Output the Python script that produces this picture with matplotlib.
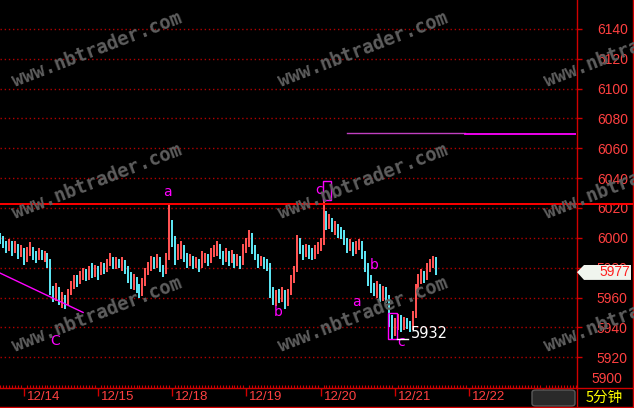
import matplotlib.pyplot as plt
from matplotlib import transforms
from matplotlib.lines import Line2D
from matplotlib.patches import Polygon, Rectangle, FancyBboxPatch

# 5 minute bars, 25 per day
closes = [5999, 5996, 5994, 5997, 5993, 5995, 5989, 5992, 5985, 5990,
          5993, 5988, 5986, 5990, 5988, 5989, 5985, 5965, 5962, 5966,
          5958, 5960, 5956, 5963, 5968, 5972, 5970, 5975, 5977, 5974,
          5978, 5976, 5980, 5977, 5981, 5979, 5983, 5986, 5982, 5985,
          5983, 5984, 5979, 5975, 5969, 5972, 5966, 5963, 5970, 5978,
          5981, 5985, 5982, 5986, 5980, 5977, 5986, 6015, 6000, 5987,
          5990, 5994, 5988, 5983, 5986, 5983, 5985, 5981, 5986, 5988,
          5984, 5990, 5993, 5995, 5989, 5986, 5990, 5985, 5988, 5984,
          5986, 5983, 5992, 5997, 6001, 5993, 5988, 5983, 5986, 5983,
          5982, 5965, 5958, 5962, 5960, 5963, 5956, 5963, 5972, 5978,
          6000, 5992, 5989, 5993, 5990, 5988, 5992, 5994, 5996, 6018,
          6010, 6012, 6007, 6008, 6004, 6003, 5998, 5994, 5996, 5991,
          5995, 5996, 5990, 5980, 5972, 5968, 5965, 5968, 5962, 5966,
          5960, 5945, 5936, 5942, 5946, 5940, 5944, 5942, 5940, 5948,
          5966, 5972, 5976, 5973, 5978, 5982, 5986, 5977]
highs = [6003, 6001, 5998, 5999, 5998, 5998, 5996, 5995, 5993, 5994,
         5997, 5994, 5991, 5993, 5992, 5991, 5990, 5986, 5968, 5970,
         5967, 5964, 5962, 5966, 5971, 5975, 5975, 5978, 5980, 5979,
         5981, 5983, 5982, 5981, 5984, 5983, 5986, 5990, 5987, 5987,
         5986, 5987, 5985, 5981, 5977, 5976, 5974, 5969, 5973, 5980,
         5984, 5988, 5987, 5989, 5987, 5982, 5990, 6023, 6012, 6001,
         5996, 5998, 5995, 5990, 5989, 5988, 5987, 5986, 5991, 5990,
         5989, 5993, 5995, 5998, 5996, 5991, 5993, 5991, 5992, 5989,
         5989, 5988, 5996, 6000, 6005, 6003, 5995, 5989, 5988, 5987,
         5986, 5983, 5967, 5965, 5966, 5967, 5965, 5966, 5975, 5981,
         6002, 6000, 5995, 5996, 5995, 5993, 5995, 5997, 6000, 6025,
         6018, 6016, 6013, 6011, 6009, 6007, 6005, 6000, 5999, 5997,
         5998, 5999, 5998, 5991, 5983, 5975, 5970, 5971, 5969, 5968,
         5967, 5962, 5948, 5946, 5949, 5948, 5947, 5946, 5944, 5951,
         5969, 5976, 5979, 5978, 5983, 5986, 5988, 5987]
lows = [5996, 5993, 5990, 5991, 5988, 5990, 5986, 5987, 5982, 5984,
        5988, 5985, 5983, 5985, 5985, 5984, 5980, 5962, 5957, 5958,
        5955, 5953, 5952, 5955, 5962, 5966, 5967, 5969, 5972, 5971,
        5972, 5973, 5974, 5972, 5975, 5976, 5977, 5981, 5979, 5979,
        5980, 5978, 5976, 5970, 5966, 5965, 5963, 5960, 5961, 5968,
        5975, 5978, 5979, 5980, 5977, 5974, 5976, 5985, 5994, 5982,
        5985, 5986, 5984, 5980, 5981, 5979, 5980, 5977, 5980, 5983,
        5981, 5983, 5987, 5988, 5986, 5982, 5984, 5981, 5983, 5980,
        5981, 5979, 5982, 5990, 5994, 5989, 5985, 5980, 5981, 5979,
        5978, 5960, 5955, 5954, 5956, 5957, 5952, 5954, 5962, 5970,
        5977, 5989, 5985, 5987, 5986, 5985, 5986, 5989, 5991, 5995,
        6005, 6006, 6004, 6002, 6000, 5999, 5995, 5990, 5991, 5988,
        5989, 5992, 5986, 5977, 5968, 5963, 5961, 5960, 5957, 5958,
        5956, 5940, 5932, 5934, 5938, 5937, 5938, 5939, 5937, 5938,
        5946, 5964, 5969, 5970, 5972, 5977, 5980, 5975]
first_open = 6000

day_starts = [8, 33, 58, 83, 108, 133, 158, 183]
day_labels = ['12/14', '12/15', '12/18', '12/19', '12/20', '12/21', '12/22', '']
price_ticks = [5920, 5940, 5960, 5980, 6000, 6020, 6040, 6060, 6080, 6100, 6120, 6140]
bottom_tick = 5900
last_price = 5977
low_price = 5932
resist_price = 6022.7

trend_x = [0, 28]
trend_y = [5976.4, 5950]
target_x = [116.9, 156.7, 194.1]
target_y = [6070.1, 6069.4]

wave_text = ['C', 'a', 'b', 'c', 'b', 'a', 'c']
wave_x = [18.5, 56.3, 93.7, 107.5, 126.0, 120.0, 135.1]
wave_y = [5930.8, 6030.7, 5950.3, 6032.0, 5981.8, 5957.0, 5930.0]

# boxes: x0, x1, y0, y1
box_c = [108.8, 111.5, 6025.3, 6038.1]
box_low = [130.8, 133.7, 5932, 5949.6]

RED = '#ff4040'
UP = '#ff5252'
DOWN = '#5ce4f2'
GRID = '#b00000'
LINE = '#d00000'
MAG = '#ff00ff'

W, H = 634, 408
fig = plt.figure(figsize=(W / 100, H / 100), dpi=100, facecolor='black')
ax = fig.add_axes([0, 20.5 / H, 576 / W, 387.5 / H], facecolor='black')
ax.set_xlim(0, 194.07)
ax.set_ylim(5899.7, 6159.4)
for s in ax.spines.values():
    s.set_visible(False)

# bars
opens = [first_open] + closes[:-1]
xs = list(range(len(closes)))
cols = [UP if c >= o else DOWN for o, c in zip(opens, closes)]
ax.vlines(xs, lows, highs, colors=cols, lw=1.2, antialiased=False, zorder=3)

# grid / ticks
ax.yaxis.tick_right()
ax.set_yticks(price_ticks)
ax.set_yticklabels([str(p) for p in price_ticks])
ax.tick_params(axis='y', colors=LINE, labelcolor=RED, length=4, width=1,
               direction='out', pad=11, labelsize=10)
for lab in ax.get_yticklabels():
    lab.set_family('Liberation Sans')
ax.grid(axis='y', color=GRID, linestyle=(0, (1, 2)), lw=1)
ax.annotate(str(bottom_tick), xy=(1, bottom_tick), xycoords=ax.get_yaxis_transform(),
            xytext=(15, 1), textcoords='offset pixels', ha='left', va='bottom',
            color=RED, fontsize=10, family='Liberation Sans', annotation_clip=False)

ax.set_xticks(day_starts)
ax.set_xticklabels([])
ax.set_xticks(range(0, 195), minor=True)
ax.tick_params(axis='x', which='major', colors=LINE, length=6, width=1, direction='out')
ax.tick_params(axis='x', which='minor', colors=LINE, length=2, width=0.8, direction='in')
for d, lbl in zip(day_starts, day_labels):
    ax.annotate(lbl, xy=(d, 0), xycoords=('data', 'axes fraction'),
                xytext=(3, -3), textcoords='offset pixels', ha='left', va='top',
                color=RED, fontsize=9.5, family='Liberation Sans', annotation_clip=False)

# resistance line, runs through the price panel too
ax.axhline(resist_price, xmin=0, xmax=W / 576, color='#ff0000', lw=1.4,
           clip_on=False, zorder=4)

# trend line & target line
ax.plot(trend_x, trend_y, color=MAG, lw=1, zorder=4)
ax.plot(target_x[:2], [target_y[0]] * 2, color='#c040c0', lw=1, zorder=4)
ax.plot(target_x[1:], [target_y[1]] * 2, color=MAG, lw=1.3, zorder=4)

# wave labels
for t, x, y in zip(wave_text, wave_x, wave_y):
    ax.text(x, y, t, color=MAG, fontsize=10, ha='center', va='center', zorder=5)

for b in [box_c, box_low]:
    ax.add_patch(Rectangle((b[0], b[2]), b[1] - b[0], b[3] - b[2], fill=False,
                           edgecolor=MAG, lw=1, zorder=5))

ax.plot([box_low[1], box_low[1] + 3.8], [low_price, low_price], color='white', lw=1, zorder=5)
ax.annotate(str(low_price), xy=(box_low[1] + 4.8, low_price), xytext=(0, 6),
            textcoords='offset pixels', color='white', fontsize=10.5,
            ha='left', va='center', zorder=5)

# frame lines (figure pixels)
def fx(px):
    return px / W

def fy(py):
    return 1 - py / H

fig.add_artist(Line2D([fx(576.5), fx(576.5)], [0, 1], color=LINE, lw=1))
fig.add_artist(Line2D([fx(633), fx(633)], [0, 1], color=LINE, lw=1))
fig.add_artist(Line2D([0, 1], [fy(387.5), fy(387.5)], color=LINE, lw=1))
fig.add_artist(Line2D([0, 1], [fy(407), fy(407)], color=LINE, lw=1))

fig.add_artist(FancyBboxPatch((fx(532), fy(406)), fx(575) - fx(532), fy(390) - fy(406),
                              boxstyle='round,pad=0,rounding_size=0.006',
                              facecolor='#2a2a2a', edgecolor='#5a5a5a', lw=1))
fig.text(fx(604.5), fy(397.5), '5分钟', color='#ffff00', fontsize=10.5,
         family=['Noto Sans CJK SC', 'DejaVu Sans'], ha='center', va='center')

# last price marker
tr = transforms.blended_transform_factory(fig.transFigure, ax.transData)
marker = Polygon([(fx(577), last_price), (fx(584), last_price + 4.8),
                  (fx(631), last_price + 4.8), (fx(631), last_price - 5.2),
                  (fx(584), last_price - 5.2)], closed=True, transform=tr,
                 facecolor='#f0f5ee', edgecolor='none', clip_on=False, zorder=6)
fig.add_artist(marker)
fig.text(fx(630), last_price, str(last_price), transform=tr, color='#ff2020',
         fontsize=10, family='Liberation Sans', ha='right', va='center', zorder=7)

# watermark
for cx in [97, 363, 629]:
    for cy in [50, 182, 315]:
        fig.text(fx(cx), fy(cy), 'www.nbtrader.com', color='#5e5e5e', fontsize=13.5,
                 family='DejaVu Sans Mono', fontweight='bold', rotation=21,
                 ha='center', va='center', rotation_mode='anchor', zorder=8)

fig.savefig('out.png', dpi=100, facecolor='black')
